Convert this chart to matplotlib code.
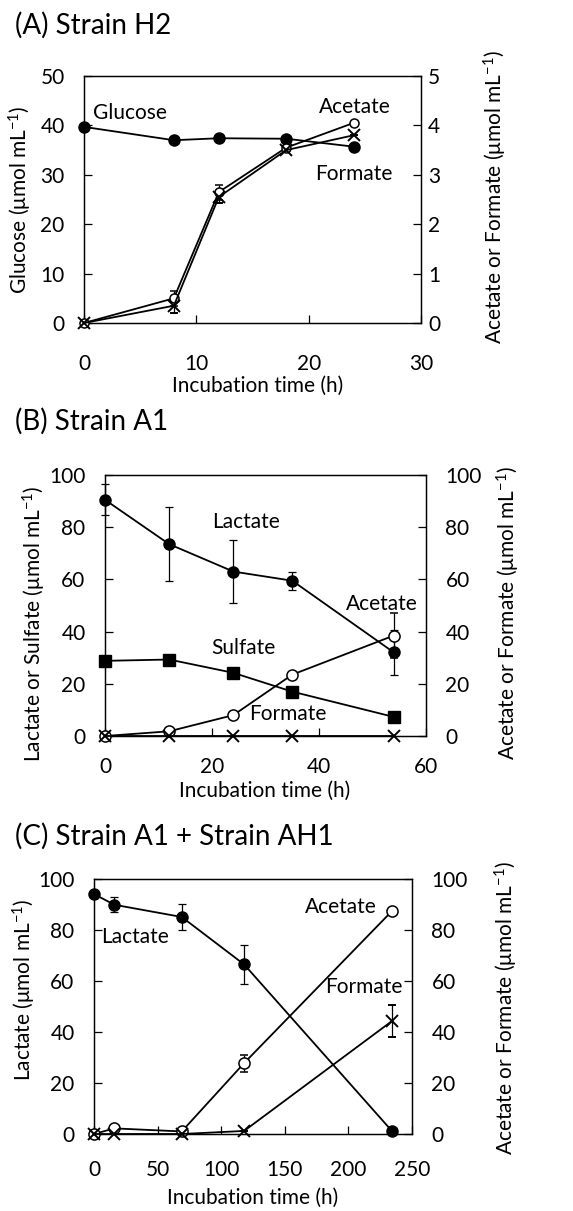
import numpy as np
import matplotlib
matplotlib.use("Agg")
import matplotlib.pyplot as plt

plt.rcParams['font.family'] = ['Lato', 'DejaVu Sans']
plt.rcParams['mathtext.fontset'] = 'custom'
plt.rcParams['mathtext.rm'] = 'Lato'
plt.rcParams['mathtext.it'] = 'Lato'
plt.rcParams['font.size'] = 15
plt.rcParams['xtick.direction'] = 'in'
plt.rcParams['ytick.direction'] = 'in'
plt.rcParams['xtick.major.size'] = 6
plt.rcParams['ytick.major.size'] = 6
plt.rcParams['xtick.major.width'] = 0.9
plt.rcParams['ytick.major.width'] = 0.9
plt.rcParams['xtick.labelsize'] = 15
plt.rcParams['ytick.labelsize'] = 15
plt.rcParams['xtick.major.pad'] = 19
plt.rcParams['ytick.major.pad'] = 14
plt.rcParams['axes.linewidth'] = 0.9

# ---------------- data: (A) Strain H2 ----------------
tA = [0, 8, 12, 18, 24]
glucA = [39.7, 37.0, 37.4, 37.3, 35.7]
acetA = [0.0, 0.5, 2.65, 3.55, 4.05]
acetA_err = [0.0, 0.15, 0.15, 0.0, 0.0]
formA = [0.0, 0.35, 2.55, 3.5, 3.8]
formA_err = [0.0, 0.15, 0.12, 0.0, 0.0]

# ---------------- data: (B) Strain A1 ----------------
tB = [0, 12, 24, 35, 54]
lactB = [90.5, 73.5, 63.0, 59.5, 32.0]
lactB_err = [6.0, 14.3, 12.0, 3.5, 8.5]
sulfB = [28.8, 29.3, 24.2, 17.0, 7.3]
acetB = [0.0, 1.8, 8.0, 23.5, 38.5]
acetB_err = [0.0, 0.0, 0.0, 0.0, 8.5]
formB = [0.0, 0.0, 0.0, 0.0, 0.0]

# ---------------- data: (C) Strain A1 + Strain AH1 ----------------
tC = [0, 16, 69, 118, 234]
lactC = [94.1, 89.9, 85.1, 66.5, 1.3]
lactC_err = [0.0, 3.0, 5.2, 7.7, 0.0]
acetC = [0.0, 2.2, 1.0, 27.8, 87.3]
acetC_err = [0.0, 0.0, 0.0, 3.3, 1.5]
formC = [0.0, 0.0, 0.0, 1.2, 44.2]
formC_err = [0.0, 0.0, 0.0, 0.0, 6.3]

W, H = 573, 1211
fig = plt.figure(figsize=(W / 100, H / 100), dpi=100)

ylab_unit = r" (μmol mL$^{-1}$)"
line_kw = dict(color='black', lw=1.3, capsize=3, elinewidth=0.9, capthick=0.9,
               zorder=3, clip_on=False)


def box(l, t, r, b):
    return [l / W, 1 - b / H, (r - l) / W, (b - t) / H]


def filled(ax, t, y, err=None, marker='o', ms=8):
    ax.errorbar(t, y, yerr=err, marker=marker, ms=ms, mfc='black', mec='black', **line_kw)


def opencirc(ax, t, y, err=None, ms=7):
    ax.errorbar(t, y, yerr=err, marker='o', ms=ms, mfc='white', mec='black', mew=1.1, **line_kw)


def cross(ax, t, y, err=None, ms=8):
    ax.errorbar(t, y, yerr=err, marker='x', ms=ms, mec='black', mew=1.4, **line_kw)


def panel(rect, xlim, xticks, ylim, yticks, y2lim, y2ticks, y2pad):
    ax = fig.add_axes(rect)
    ax2 = ax.twinx()
    ax.set_xlim(*xlim)
    ax.set_xticks(xticks)
    ax.set_ylim(*ylim)
    ax.set_yticks(yticks)
    ax2.set_ylim(*y2lim)
    ax2.set_yticks(y2ticks)
    ax2.tick_params(axis='y', pad=y2pad)
    ax.tick_params(top=False)
    return ax, ax2


# ======================= (A) =======================
ax, ax2 = panel(box(84, 76, 421, 323), (0, 30), [0, 10, 20, 30],
                (0, 50), np.arange(0, 51, 10), (0, 5), np.arange(0, 6, 1), 5)
ax.tick_params(axis='x', pad=22)
# glucose uses the left scale (0-50), drawn on the right axis scaled by 10
filled(ax2, tA, np.array(glucA) / 10, ms=8)
opencirc(ax2, tA, acetA, acetA_err, ms=6.5)
cross(ax2, tA, formA, formA_err, ms=9)
ax.set_ylabel("Glucose" + ylab_unit)
ax.yaxis.set_label_coords(-0.148, 0.5)
ax2.set_ylabel("Acetate or Formate" + ylab_unit)
ax2.yaxis.set_label_coords(1.181, 0.51)
ax.set_xlabel("Incubation time (h)")
ax.xaxis.set_label_coords(0.516, -0.215)
ax.text(0.8, 42.5, "Glucose", ha='left', va='center')
ax.text(24.1, 43.7, "Acetate", ha='center', va='center')
ax.text(24.0, 30.2, "Formate", ha='center', va='center')
fig.text(15 / W, 1 - 25 / H, "(A) Strain H2", fontsize=20, va='center', ha='left')

# ======================= (B) =======================
ax, ax2 = panel(box(105, 475, 426, 736), (0, 60), [0, 20, 40, 60],
                (0, 100), np.arange(0, 101, 20), (0, 100), np.arange(0, 101, 20), 14)
ax.tick_params(axis='x', pad=15)
filled(ax2, tB, sulfB, marker='s', ms=8)
filled(ax2, tB, lactB, lactB_err, ms=8)
opencirc(ax2, tB, acetB, acetB_err, ms=8)
cross(ax2, tB, formB, ms=9)
ax.set_ylabel("Lactate or Sulfate" + ylab_unit)
ax.yaxis.set_label_coords(-0.178, 0.43)
ax2.set_ylabel("Acetate or Formate" + ylab_unit)
ax2.yaxis.set_label_coords(1.215, 0.47)
ax.set_xlabel("Incubation time (h)")
ax.xaxis.set_label_coords(0.498, -0.172)
ax.text(26.4, 82, "Lactate", ha='center', va='center')
ax.text(25.8, 33.7, "Sulfate", ha='center', va='center')
ax.text(51.7, 50.6, "Acetate", ha='center', va='center')
ax.text(34.1, 8.4, "Formate", ha='center', va='center')
fig.text(15 / W, 1 - 421 / H, "(B) Strain A1", fontsize=20, va='center', ha='left')

# ======================= (C) =======================
ax, ax2 = panel(box(94, 879, 412, 1134), (0, 250), np.arange(0, 251, 50),
                (0, 100), np.arange(0, 101, 20), (0, 100), np.arange(0, 101, 20), 14)
filled(ax2, tC, lactC, lactC_err, ms=8)
opencirc(ax2, tC, acetC, acetC_err, ms=8)
cross(ax2, tC, formC, formC_err, ms=9)
ax.set_ylabel("Lactate" + ylab_unit)
ax.yaxis.set_label_coords(-0.176, 0.565)
ax2.set_ylabel("Acetate or Formate" + ylab_unit)
ax2.yaxis.set_label_coords(1.255, 0.494)
ax.set_xlabel("Incubation time (h)")
ax.xaxis.set_label_coords(0.5, -0.21)
ax.text(32, 77.3, "Lactate", ha='center', va='center')
ax.text(194, 89, "Acetate", ha='center', va='center')
ax.text(212, 57.6, "Formate", ha='center', va='center')
fig.text(15 / W, 1 - 836 / H, "(C) Strain A1 + Strain AH1", fontsize=20, va='center', ha='left')

fig.savefig("out.png", dpi=100)
